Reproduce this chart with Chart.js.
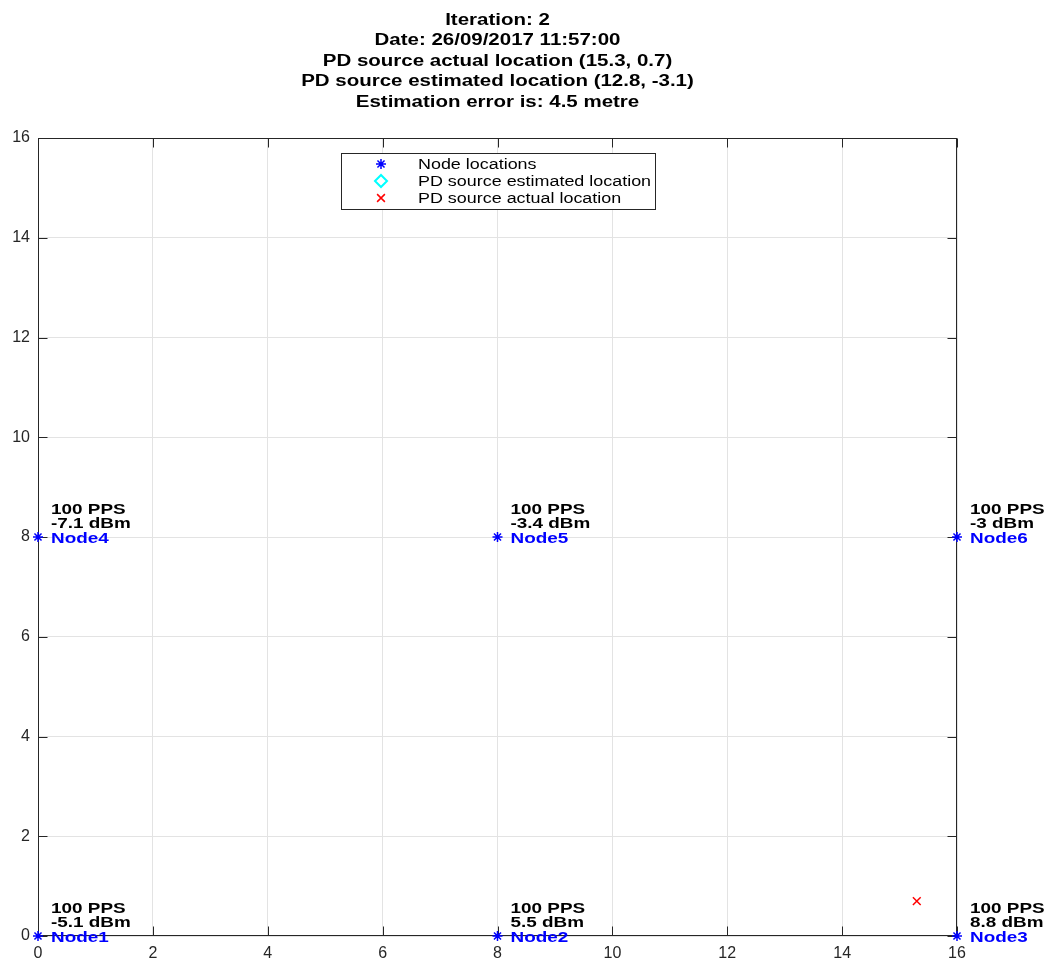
<!DOCTYPE html>
<html><head><meta charset="utf-8">
<script src="https://cdn.jsdelivr.net/npm/chart.js@4.4.0/dist/chart.umd.min.js"></script>
<style>html,body{margin:0;padding:0;background:#fff;}#wrap{width:1055px;height:959px;position:relative;}</style>
</head><body><div id="wrap"><canvas id="c" width="1055" height="959"></canvas></div>
<script>
// ---- data ----
const titleLines = [
  'Iteration: 2',
  'Date: 26/09/2017 11:57:00',
  'PD source actual location (15.3, 0.7)',
  'PD source estimated location (12.8, -3.1)',
  'Estimation error is: 4.5 metre'
];
const nodeNames = ['Node1', 'Node2', 'Node3', 'Node4', 'Node5', 'Node6'];
const nodeX = [0, 8, 16, 0, 8, 16];
const nodeY = [0, 0, 0, 8, 8, 8];
const nodePPS = [100, 100, 100, 100, 100, 100];
const nodeDbm = [-5.1, 5.5, 8.8, -7.1, -3.4, -3];
const estimatedX = [12.8];
const estimatedY = [-3.1];
const actualX = [15.3];
const actualY = [0.7];
const axisTicks = [0, 2, 4, 6, 8, 10, 12, 14, 16];
const legendLabels = ['Node locations', 'PD source estimated location', 'PD source actual location'];

// ---- helpers ----
const toPts = (xs, ys) => xs.map((x, i) => ({x: x, y: ys[i]}));
function sText(ctx, str, x, y, font, color, sx, align) {
  ctx.save();
  ctx.font = font; ctx.fillStyle = color; ctx.textBaseline = 'alphabetic'; ctx.textAlign = 'left';
  const w = ctx.measureText(str).width * sx;
  const x0 = align === 'center' ? x - w / 2 : x;
  ctx.translate(x0, y); ctx.scale(sx, 1);
  ctx.fillText(str, 0, 0);
  ctx.restore();
}
const AXIS_COLOR = '#262626';
const FONT = '"Liberation Sans", Arial, Helvetica, sans-serif';

const boxPlugin = {
  id: 'boxPlugin',
  beforeDatasetsDraw(chart) {
    const {ctx, chartArea: a, scales: {x, y}} = chart;
    ctx.save();
    ctx.strokeStyle = AXIS_COLOR; ctx.lineWidth = 1;
    const L = Math.round(a.left) + 0.5, R = Math.round(a.right) - 0.5;
    const T = Math.round(a.top) + 0.5, B = Math.round(a.bottom) - 0.5;
    ctx.strokeRect(L, T, R - L, B - T);
    const tl = 9;
    ctx.beginPath();
    axisTicks.forEach(v => {
      const px = Math.round(x.getPixelForValue(v)) + 0.5;
      ctx.moveTo(px, B); ctx.lineTo(px, B - tl);
      ctx.moveTo(px, T); ctx.lineTo(px, T + tl);
      const py = Math.round(y.getPixelForValue(v)) + 0.5;
      ctx.moveTo(L, py); ctx.lineTo(L + tl, py);
      ctx.moveTo(R, py); ctx.lineTo(R - tl, py);
    });
    ctx.stroke();
    ctx.restore();
  },
  afterDraw(chart) {
    const {ctx, scales: {x, y}} = chart;
    // node annotations
    nodeNames.forEach((name, i) => {
      const px = x.getPixelForValue(nodeX[i]);
      const py = y.getPixelForValue(nodeY[i]);
      const f = 'bold 14px ' + FONT;
      sText(ctx, nodePPS[i] + ' PPS', px + 13, py - 23, f, '#000', 1.35);
      sText(ctx, nodeDbm[i] + ' dBm', px + 13, py - 9, f, '#000', 1.35);
      sText(ctx, name, px + 13, py + 5.5, f, '#0000ff', 1.35);
    });
    // title
    titleLines.forEach((t, i) => {
      sText(ctx, t, (chart.chartArea.left + chart.chartArea.right) / 2, 25 + i * 20.4,
        'bold 16px ' + FONT, '#000', 1.28, 'center');
    });
    // legend
    ctx.save();
    ctx.fillStyle = '#fff'; ctx.strokeStyle = AXIS_COLOR; ctx.lineWidth = 1;
    ctx.fillRect(341.5, 153.5, 314, 56);
    ctx.strokeRect(341.5, 153.5, 314, 56);
    ctx.restore();
    const rows = [164, 181, 198];
    chart.data.datasets.forEach((ds, i) => {
      ctx.save();
      ctx.strokeStyle = ds.borderColor; ctx.fillStyle = ds.backgroundColor || '#fff';
      ctx.lineWidth = ds.borderWidth;
      Chart.helpers.drawPoint(ctx, {pointStyle: ds.pointStyle, radius: ds.pointRadius, rotation: 0, borderWidth: ds.borderWidth}, 381, rows[i]);
      ctx.restore();
      sText(ctx, legendLabels[i], 418, rows[i] + 5, '14px ' + FONT, '#000', 1.28);
    });
  }
};

const tickOpts = {
  color: AXIS_COLOR,
  font: {family: FONT, size: 16},
  padding: 8
};

new Chart(document.getElementById('c'), {
  type: 'scatter',
  data: {
    datasets: [
      {label: legendLabels[0], data: toPts(nodeX, nodeY), pointStyle: 'star', pointRadius: 5,
       borderColor: '#0000ff', backgroundColor: '#0000ff', borderWidth: 1.5, clip: false},
      {label: legendLabels[1], data: toPts(estimatedX, estimatedY), pointStyle: 'rectRot', pointRadius: 6,
       borderColor: '#00ffff', backgroundColor: '#ffffff', borderWidth: 2},
      {label: legendLabels[2], data: toPts(actualX, actualY), pointStyle: 'crossRot', pointRadius: 5.5,
       borderColor: '#ff0000', backgroundColor: '#ff0000', borderWidth: 1.5, clip: false}
    ]
  },
  options: {
    responsive: false,
    animation: false,
    events: [],
    layout: {padding: {top: 138, right: 98, bottom: 0, left: 0}},
    plugins: {legend: {display: false}, title: {display: false}, tooltip: {enabled: false}},
    scales: {
      x: {
        type: 'linear', min: 0, max: 16,
        afterBuildTicks: s => { s.ticks = axisTicks.map(v => ({value: v})); },
        afterFit: s => { s.height = 23; },
        ticks: tickOpts,
        grid: {color: '#e3e3e3', drawTicks: false},
        border: {display: false}
      },
      y: {
        type: 'linear', min: 0, max: 16,
        afterBuildTicks: s => { s.ticks = axisTicks.map(v => ({value: v})); },
        afterFit: s => { s.width = 38; },
        ticks: tickOpts,
        grid: {color: '#e3e3e3', drawTicks: false},
        border: {display: false}
      }
    }
  },
  plugins: [boxPlugin]
});
</script></body></html>
